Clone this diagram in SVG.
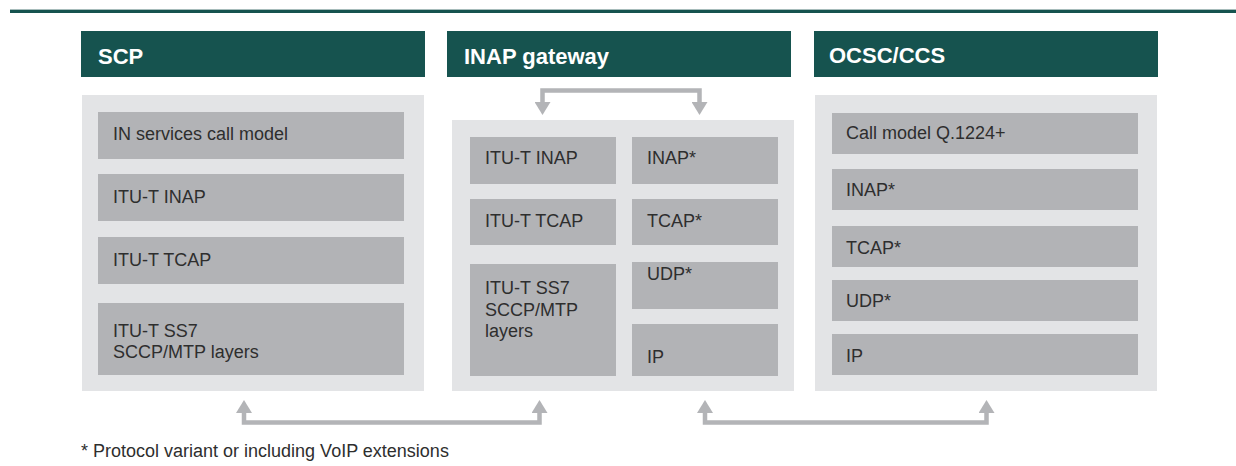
<svg xmlns="http://www.w3.org/2000/svg" width="1236" height="466" viewBox="0 0 1236 466">
  <style>
    .hdr { fill: #16534f; }
    .hdr-t { font-family: "Liberation Sans", Arial, sans-serif; font-weight: bold; font-size: 22px; fill: #ffffff; }
    .panel { fill: #e3e4e6; }
    .box { fill: #b2b3b6; }
    .lbl { font-family: "Liberation Sans", Arial, sans-serif; font-size: 18px; fill: #2e2e2e; }
    .conn { fill: none; stroke: #b3b4b7; stroke-width: 4.5; stroke-linejoin: miter; }
  </style>
  <defs>
    <marker id="arrow" markerUnits="userSpaceOnUse" markerWidth="16" markerHeight="16" viewBox="0 -8 13 16" refX="2" refY="0" orient="auto-start-reverse">
      <path d="M0,-8 L13,0 L0,8 Z" fill="#b3b4b7"/>
    </marker>
  </defs>

  <!-- top rule -->
  <rect x="10" y="9" width="1226" height="1" fill="#a7bcbb"/>
  <rect x="10" y="10" width="1226" height="3" fill="#16534f"/>

  <!-- SCP -->
  <g id="scp">
    <rect class="hdr" x="81" y="31" width="344" height="46"/>
    <text class="hdr-t" x="98" y="64">SCP</text>
    <rect class="panel" x="82" y="95" width="342" height="296"/>
    <rect class="box" x="98" y="112" width="306" height="47"/>
    <text class="lbl" x="113" y="140">IN services call model</text>
    <rect class="box" x="98" y="174" width="306" height="47"/>
    <text class="lbl" x="113" y="203">ITU-T INAP</text>
    <rect class="box" x="98" y="237" width="306" height="47"/>
    <text class="lbl" x="113" y="266">ITU-T TCAP</text>
    <rect class="box" x="98" y="303" width="306" height="72"/>
    <text class="lbl" x="113" y="337">ITU-T SS7</text>
    <text class="lbl" x="113" y="358">SCCP/MTP layers</text>
  </g>

  <!-- INAP gateway -->
  <g id="inap-gateway">
    <rect class="hdr" x="447" y="31" width="344" height="46"/>
    <text class="hdr-t" x="464" y="64">INAP gateway</text>
    <rect class="panel" x="452" y="120" width="342" height="271"/>
    <rect class="box" x="470" y="137" width="146" height="47"/>
    <text class="lbl" x="485" y="164">ITU-T INAP</text>
    <rect class="box" x="470" y="199" width="146" height="46"/>
    <text class="lbl" x="485" y="227">ITU-T TCAP</text>
    <rect class="box" x="470" y="264" width="146" height="112"/>
    <text class="lbl" x="485" y="294">ITU-T SS7</text>
    <text class="lbl" x="485" y="316">SCCP/MTP</text>
    <text class="lbl" x="485" y="337">layers</text>
    <rect class="box" x="632" y="137" width="146" height="47"/>
    <text class="lbl" x="647" y="164">INAP*</text>
    <rect class="box" x="632" y="199" width="146" height="46"/>
    <text class="lbl" x="647" y="227">TCAP*</text>
    <rect class="box" x="632" y="262" width="146" height="47"/>
    <text class="lbl" x="647" y="280">UDP*</text>
    <rect class="box" x="632" y="324" width="146" height="52"/>
    <text class="lbl" x="647" y="363">IP</text>
  </g>

  <!-- OCSC/CCS -->
  <g id="ocsc-ccs">
    <rect class="hdr" x="814" y="31" width="344" height="46"/>
    <text class="hdr-t" x="829" y="63">OCSC/CCS</text>
    <rect class="panel" x="815" y="95" width="342" height="296"/>
    <rect class="box" x="832" y="113" width="306" height="41"/>
    <text class="lbl" x="846" y="139">Call model Q.1224+</text>
    <rect class="box" x="832" y="169" width="306" height="41"/>
    <text class="lbl" x="846" y="196">INAP*</text>
    <rect class="box" x="832" y="226" width="306" height="41"/>
    <text class="lbl" x="846" y="254">TCAP*</text>
    <rect class="box" x="832" y="280" width="306" height="41"/>
    <text class="lbl" x="846" y="307">UDP*</text>
    <rect class="box" x="832" y="334" width="306" height="41"/>
    <text class="lbl" x="846" y="362">IP</text>
  </g>

  <!-- connectors -->
  <g id="connectors">
    <path class="conn" d="M542.5,104 V90.5 H699.5 V104" marker-start="url(#arrow)" marker-end="url(#arrow)"/>
    <path class="conn" d="M244,411 V422.5 H539.5 V411" marker-start="url(#arrow)" marker-end="url(#arrow)"/>
    <path class="conn" d="M705,411 V422.5 H986.5 V411" marker-start="url(#arrow)" marker-end="url(#arrow)"/>
  </g>

  <!-- footnote -->
  <text class="lbl" x="81" y="457">* Protocol variant or including VoIP extensions</text>
</svg>
